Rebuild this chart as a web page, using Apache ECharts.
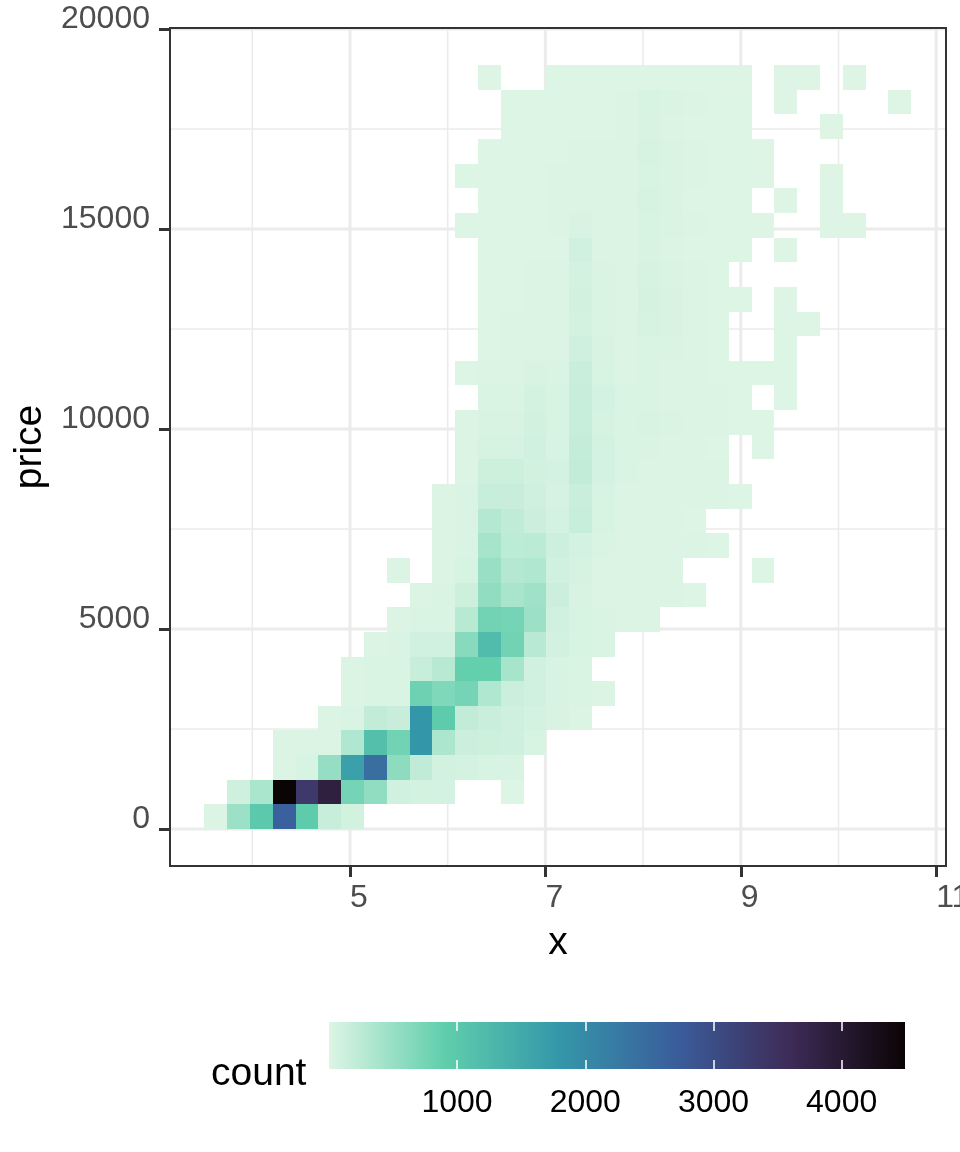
<!DOCTYPE html>
<html>
<head>
<meta charset="utf-8">
<title>price vs x</title>
<script src="https://cdn.jsdelivr.net/npm/echarts@6/dist/echarts.min.js"></script>
<style>
    html, body { margin: 0; background: #fff; }
    #chart { width: 960px; height: 1152px; }
</style>
</head>
<body>
<div id="chart"></div>
<script>
// bins
const xBinStart = 3.5087;
const xBinWidth = 0.2334;
const yBinStart = 0;
const yBinHeight = 616;

// one entry per row from the bottom: [first column, counts], 0 = empty bin
const countsByRow = [
    [0, [25, 480, 980, 2650, 950, 170, 90]],
    [1, [110, 370, 4490, 3350, 3850, 750, 560, 100, 80, 70, 0, 0, 12]],
    [3, [25, 50, 520, 1650, 2450, 580, 220, 90, 80, 50, 40]],
    [3, [25, 25, 25, 330, 1150, 780, 1800, 350, 130, 120, 110, 50]],
    [5, [15, 30, 200, 160, 1800, 950, 200, 150, 110, 80, 40, 25]],
    [6, [20, 30, 35, 800, 680, 750, 330, 130, 100, 50, 30, 25]],
    [6, [20, 30, 35, 170, 280, 880, 880, 400, 100, 50, 30]],
    [7, [25, 35, 100, 100, 620, 1200, 780, 270, 90, 50, 30]],
    [8, [25, 30, 35, 280, 780, 750, 470, 100, 50, 30, 25, 20]],
    [9, [25, 30, 120, 560, 380, 450, 130, 40, 25, 20, 20, 15, 10]],
    [8, [15, 0, 20, 50, 500, 300, 330, 100, 60, 25, 20, 20, 15, 0, 0, 0, 5]],
    [10, [15, 35, 400, 240, 250, 120, 70, 30, 20, 20, 15, 15, 10]],
    [10, [15, 30, 300, 220, 130, 80, 170, 50, 25, 20, 20, 10]],
    [10, [15, 30, 170, 160, 110, 60, 150, 50, 25, 20, 20, 15, 15, 10]],
    [11, [25, 120, 120, 90, 70, 200, 70, 30, 25, 20, 15, 15]],
    [11, [25, 60, 60, 100, 50, 190, 80, 30, 30, 20, 15, 10, 0, 5]],
    [11, [15, 45, 45, 90, 50, 170, 60, 30, 40, 30, 20, 15, 10, 5]],
    [12, [35, 30, 80, 50, 170, 70, 30, 35, 25, 15, 15, 10, 0, 5]],
    [11, [8, 25, 20, 45, 35, 150, 50, 25, 30, 20, 15, 12, 10, 8, 5]],
    [12, [12, 15, 25, 25, 110, 40, 25, 35, 30, 15, 12, 0, 0, 5]],
    [12, [10, 15, 20, 20, 80, 35, 25, 55, 40, 20, 12, 0, 0, 5, 3]],
    [12, [8, 12, 15, 20, 90, 30, 25, 65, 40, 20, 12, 6, 0, 4]],
    [12, [8, 12, 15, 15, 80, 30, 20, 60, 30, 15, 10]],
    [12, [8, 10, 12, 12, 100, 25, 20, 45, 25, 12, 10, 5, 0, 3]],
    [11, [5, 10, 10, 12, 20, 40, 25, 20, 50, 35, 15, 10, 8, 4, 0, 0, 3, 2]],
    [12, [8, 10, 12, 15, 25, 20, 20, 55, 30, 12, 10, 5, 0, 3, 0, 2]],
    [11, [5, 8, 10, 12, 15, 20, 20, 20, 50, 30, 15, 10, 8, 4, 0, 0, 2]],
    [12, [6, 9, 10, 12, 15, 15, 15, 55, 35, 15, 9, 8, 4]],
    [13, [8, 9, 10, 12, 12, 15, 40, 25, 12, 9, 5, 0, 0, 0, 2]],
    [13, [8, 8, 9, 10, 11, 15, 50, 35, 15, 10, 5, 0, 2, 0, 0, 0, 0, 2]],
    [12, [2, 0, 0, 6, 8, 8, 8, 12, 10, 8, 6, 4, 0, 2, 2, 0, 2]]
];

const xMajor = [5, 7, 9, 11];
const xMinor = [4, 6, 8, 10];
const yMajor = [0, 5000, 10000, 15000, 20000];
const yMinor = [2500, 7500, 12500, 17500];
const legendTicks = [1000, 2000, 3000, 4000];
const palette = ['#DEF5E5', '#60CEAC', '#3497A9', '#3A5E9C', '#3E2B58', '#0B0405'];

const xMin = 3.1576, xMax = 11.1003;
const yMin = -925, yMax = 20025;
const countMin = 1, countMax = 4494;

// [xmin, xmax, ymin, ymax, count]
const cells = [];
countsByRow.forEach(function (row, r) {
    row[1].forEach(function (count, i) {
        if (!count) return;
        const c = row[0] + i;
        cells.push([
            xBinStart + c * xBinWidth,
            xBinStart + (c + 1) * xBinWidth,
            yBinStart + r * yBinHeight,
            yBinStart + (r + 1) * yBinHeight,
            count
        ]);
    });
});

// panel grid lines: [is vertical, value, width]
const gridLines = [];
xMinor.forEach(function (v) { gridLines.push([1, v, 1.5]); });
yMinor.forEach(function (v) { gridLines.push([0, v, 1.5]); });
xMajor.forEach(function (v) { gridLines.push([1, v, 3]); });
yMajor.forEach(function (v) { gridLines.push([0, v, 3]); });

const FONT = '"Liberation Sans", Arial, sans-serif';
const plainNumber = function (v) { return String(v); };
const chart = echarts.init(document.getElementById('chart'), null, { renderer: 'canvas' });

chart.setOption({
    animation: false,
    backgroundColor: '#fff',
    textStyle: { fontFamily: FONT },
    grid: [
        { left: 170, top: 28, width: 776, height: 838, containLabel: false, outerBoundsMode: 'none' },
        { left: 329, top: 1022, width: 576, height: 47, containLabel: false, outerBoundsMode: 'none' }
    ],
    xAxis: [
        {
            gridIndex: 0, type: 'value', min: xMin, max: xMax,
            name: 'x', nameLocation: 'middle', nameGap: 58,
            nameTextStyle: { fontFamily: FONT, fontSize: 39, color: '#000', verticalAlign: 'top' },
            axisLine: { show: false, onZero: false },
            splitLine: { show: false },
            axisTick: { show: true, length: 11, customValues: xMajor, lineStyle: { color: '#333333', width: 3 } },
            axisLabel: { show: true, customValues: xMajor, formatter: plainNumber, margin: 16, align: 'left', verticalAlign: 'top', hideOverlap: false, fontFamily: FONT, fontSize: 32, color: '#4D4D4D' }
        },
        {
            gridIndex: 1, type: 'value', min: countMin, max: countMax, z: 10,
            axisLine: { show: false, onZero: false },
            splitLine: { show: false },
            axisTick: { show: true, inside: true, length: 9, customValues: legendTicks, lineStyle: { color: '#fff', width: 1.5 } },
            axisLabel: { show: true, customValues: legendTicks, formatter: plainNumber, margin: 18, verticalAlign: 'top', fontFamily: FONT, fontSize: 32, color: '#000' }
        },
        {
            gridIndex: 1, type: 'value', position: 'top', min: countMin, max: countMax, z: 10,
            axisLine: { show: false, onZero: false },
            splitLine: { show: false },
            axisTick: { show: true, inside: true, length: 9, customValues: legendTicks, lineStyle: { color: '#fff', width: 1.5 } },
            axisLabel: { show: false }
        }
    ],
    yAxis: [
        {
            gridIndex: 0, type: 'value', min: yMin, max: yMax,
            name: 'price', nameLocation: 'middle', nameGap: 112, nameRotate: 90,
            nameTextStyle: { fontFamily: FONT, fontSize: 39, color: '#000' },
            axisLine: { show: false, onZero: false },
            splitLine: { show: false },
            axisTick: { show: true, length: 11, customValues: yMajor, lineStyle: { color: '#333333', width: 3 } },
            axisLabel: { show: true, customValues: yMajor, formatter: plainNumber, margin: 20, verticalAlign: 'bottom', lineHeight: 20, hideOverlap: false, fontFamily: FONT, fontSize: 32, color: '#4D4D4D' }
        },
        { gridIndex: 1, type: 'value', min: 0, max: 1, show: false }
    ],
    visualMap: {
        type: 'continuous',
        show: false,
        seriesIndex: 1,
        dimension: 4,
        min: countMin,
        max: countMax,
        inRange: { color: palette }
    },
    graphic: [
        {
            type: 'text', left: 211, top: 1055, silent: true,
            style: { text: 'count', font: '39px ' + FONT, fill: '#000' }
        }
    ],
    series: [
        {
            type: 'custom',
            name: 'grid',
            xAxisIndex: 0, yAxisIndex: 0,
            silent: true,
            z: 1,
            data: gridLines,
            renderItem: function (params, api) {
                const vertical = api.value(0) === 1;
                const v = api.value(1);
                const a = vertical ? api.coord([v, yMin]) : api.coord([xMin, v]);
                const b = vertical ? api.coord([v, yMax]) : api.coord([xMax, v]);
                return {
                    type: 'line',
                    shape: { x1: a[0], y1: a[1], x2: b[0], y2: b[1] },
                    style: { stroke: '#EBEBEB', lineWidth: api.value(2) }
                };
            }
        },
        {
            type: 'custom',
            name: 'count',
            xAxisIndex: 0, yAxisIndex: 0,
            z: 2,
            data: cells,
            encode: { x: [0, 1], y: [2, 3] },
            renderItem: function (params, api) {
                const p0 = api.coord([api.value(0), api.value(3)]);
                const p1 = api.coord([api.value(1), api.value(2)]);
                const x = Math.round(p0[0]), y = Math.round(p0[1]);
                return {
                    type: 'rect',
                    shape: { x: x, y: y, width: Math.round(p1[0]) - x, height: Math.round(p1[1]) - y },
                    style: { fill: api.visual('color') }
                };
            }
        },
        {
            // panel border, above the grid lines
            type: 'custom',
            name: 'panel',
            xAxisIndex: 0, yAxisIndex: 0,
            silent: true,
            z: 3,
            clip: false,
            data: [[xMin, xMax, yMin, yMax]],
            renderItem: function (params, api) {
                const p0 = api.coord([api.value(0), api.value(3)]);
                const p1 = api.coord([api.value(1), api.value(2)]);
                return {
                    type: 'rect',
                    shape: { x: p0[0], y: p0[1], width: p1[0] - p0[0], height: p1[1] - p0[1] },
                    style: { fill: 'none', stroke: '#333333', lineWidth: 2 }
                };
            }
        },
        {
            // colour bar of the legend
            type: 'custom',
            name: 'legend',
            xAxisIndex: 1, yAxisIndex: 1,
            silent: true,
            z: 2,
            data: [[countMin, countMax]],
            renderItem: function (params, api) {
                const p0 = api.coord([api.value(0), 1]);
                const p1 = api.coord([api.value(1), 0]);
                return {
                    type: 'rect',
                    shape: { x: p0[0], y: p0[1], width: p1[0] - p0[0], height: p1[1] - p0[1] },
                    style: {
                        fill: new echarts.graphic.LinearGradient(0, 0, 1, 0, palette.map(function (c, i) {
                            return { offset: i / (palette.length - 1), color: c };
                        }))
                    }
                };
            }
        }
    ]
});

window.addEventListener('resize', function () {
    chart.resize();
});
</script>
</body>
</html>
